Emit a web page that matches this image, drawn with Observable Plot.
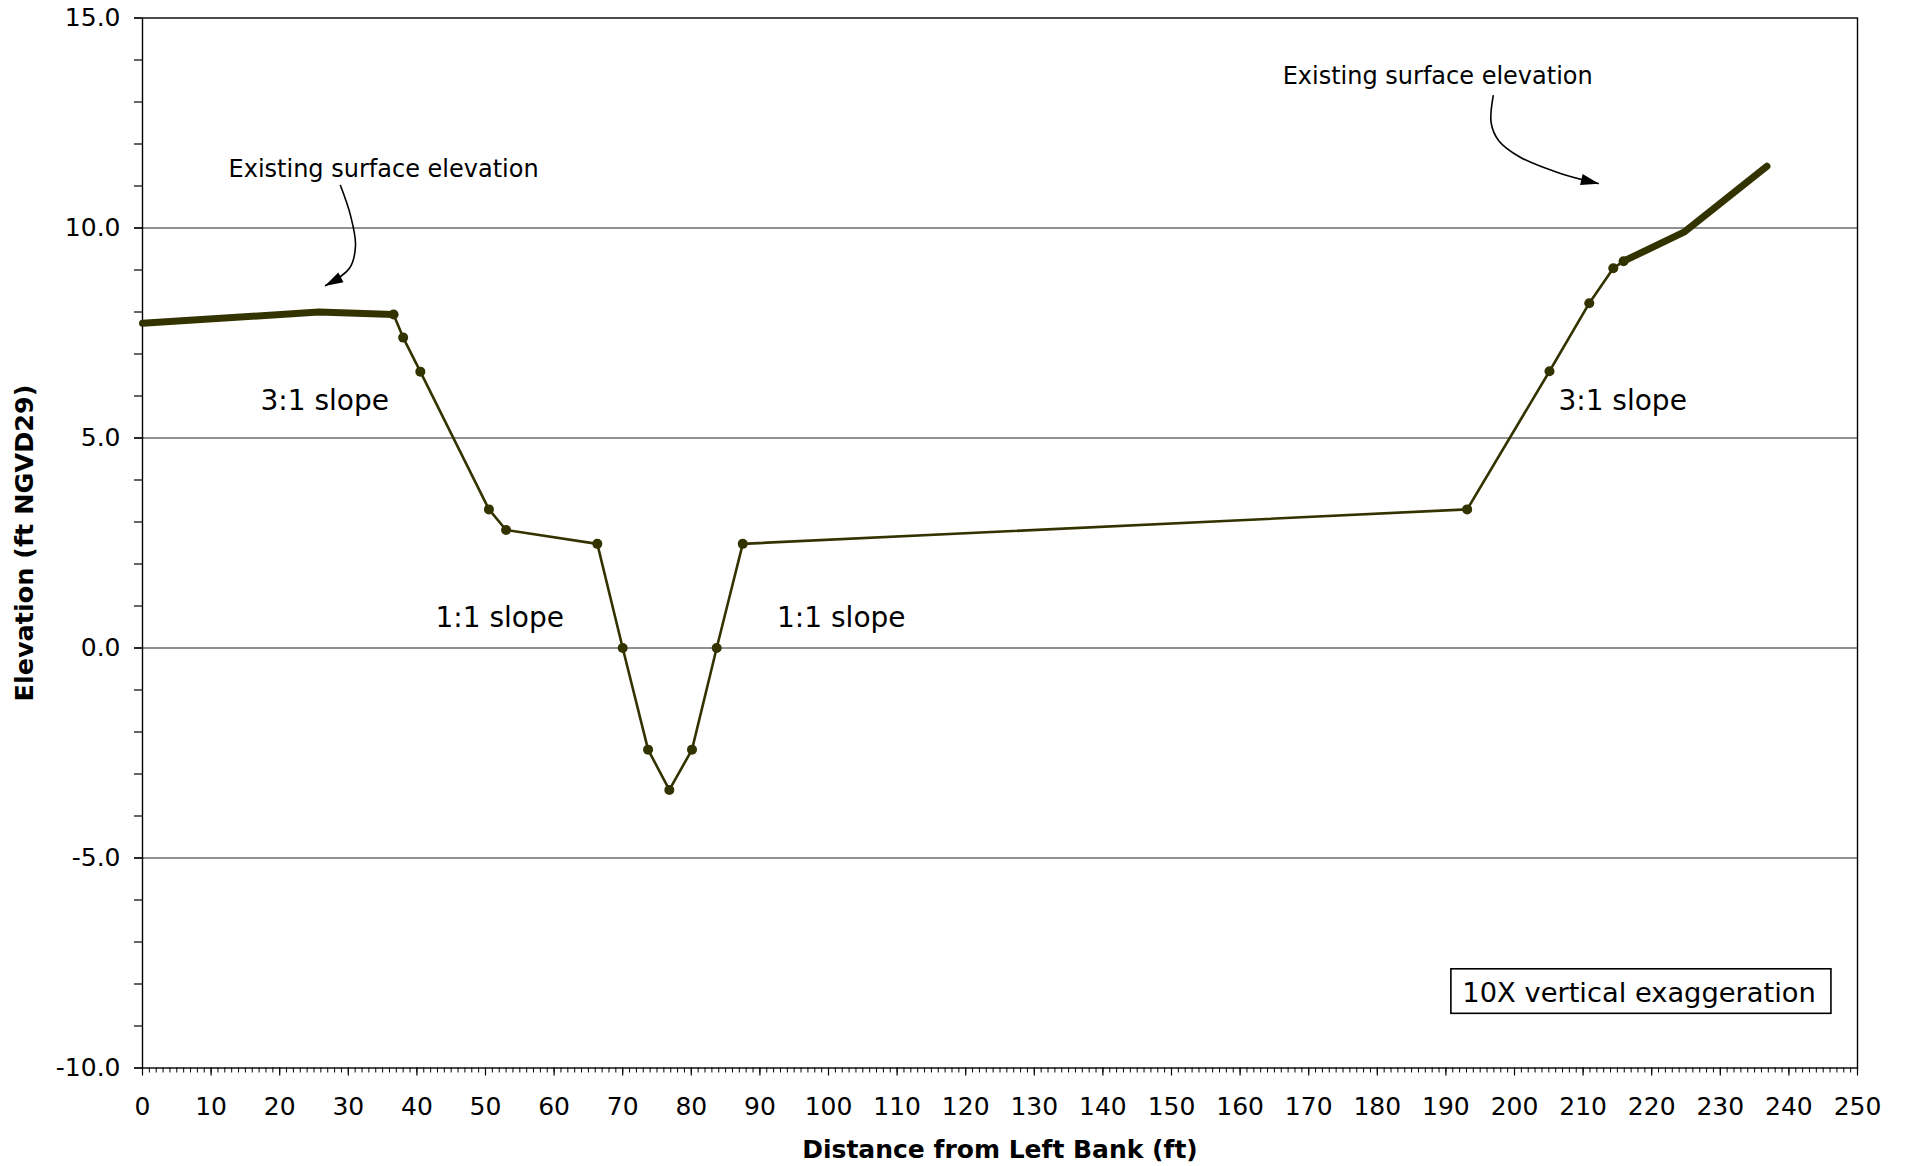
<!DOCTYPE html>
<html><head><meta charset="utf-8">
<script src="https://cdn.jsdelivr.net/npm/d3@7"></script>
<script src="https://cdn.jsdelivr.net/npm/@observablehq/plot@0.6"></script>
<style>
html,body{margin:0;padding:0;background:#fff;}
</style></head><body><div id="chart"></div>
<script>
// ---- Data ----
const existingLeftX = [0, 25.7, 36.6];
const existingLeftY = [7.73, 8.0, 7.94];
const existingRightX = [215.9, 224.7, 236.8];
const existingRightY = [9.21, 9.90, 11.47];
const proposedX = [36.6, 38.0, 40.5, 50.5, 53.0, 66.3, 70.0, 73.7, 76.8, 80.1, 83.7, 87.5, 193.1, 205.1, 210.9, 214.4, 215.9];
const proposedY = [7.94, 7.39, 6.58, 3.30, 2.81, 2.48, 0.0, -2.42, -3.38, -2.42, 0.0, 2.48, 3.30, 6.59, 8.21, 9.04, 9.21];

const xTicks = d3.range(0, 251, 10);
const xMinorTicks = d3.range(0, 251, 1);
const yTicks = [-10, -5, 0, 5, 10, 15];
const yMinorTicks = d3.range(-10, 16, 1);
const gridY = [-5, 0, 5, 10];

const xTitle = "Distance from Left Bank (ft)";
const yTitle = "Elevation (ft NGVD29)";

// annotations (data units)
const noteText = ["Existing surface elevation", "Existing surface elevation"];
const noteX = [12.54, 166.2];
const noteY = [11.21, 13.42];
const slopeText = ["3:1 slope", "1:1 slope", "1:1 slope", "3:1 slope"];
const slopeX = [17.2, 42.7, 92.5, 206.4];
const slopeY = [5.655, 0.51, 0.51, 5.67];
const boxText = "10X vertical exaggeration";
const boxX = [190.8, 246.2];
const boxY = [-7.65, -8.71];
const boxTextX = 192.4;
const boxTextY = -8.43;
const arrowLeftX = [28.86, 30.32, 31.05, 30.17, 26.7];
const arrowLeftY = [11.01, 10.30, 9.58, 9.04, 8.63];
const arrowRightX = [196.9, 196.6, 197.7, 200.9, 206.7, 212.2];
const arrowRightY = [13.15, 12.5, 12.08, 11.68, 11.30, 11.06];

const zip = (xs, ys) => xs.map((x, i) => ({x, y: ys[i]}));
const existingLeft = zip(existingLeftX, existingLeftY);
const existingRight = zip(existingRightX, existingRightY);
const proposed = zip(proposedX, proposedY);
const notes = noteText.map((t, i) => ({t, x: noteX[i], y: noteY[i]}));
const slopes = slopeText.map((t, i) => ({t, x: slopeX[i], y: slopeY[i]}));
const arrowLeft = zip(arrowLeftX, arrowLeftY);
const arrowRight = zip(arrowRightX, arrowRightY);

const col = "#333300";

const chart = Plot.plot({
  width: 1906,
  height: 1166,
  marginLeft: 142,
  marginRight: 49,
  marginTop: 17.5,
  marginBottom: 98.5,
  x: {domain: [0, 250]},
  y: {domain: [-10, 15]},
  style: {fontFamily: "'DejaVu Sans', Verdana, sans-serif", fontSize: "25px", background: "white", color: "black"},
  marks: [
    Plot.ruleY(gridY, {stroke: "#222", strokeWidth: 1.2}),
    Plot.frame({stroke: "black", strokeWidth: 1.4}),
    Plot.axisY(yMinorTicks, {tickSize: 8, text: null, strokeWidth: 1.2}),
    Plot.axisY(yTicks, {tickSize: 8, tickPadding: 14, tickFormat: d => d.toFixed(1), fontSize: 25, label: null, strokeWidth: 1.2}),
    Plot.axisX(xMinorTicks, {tickSize: 5, text: null, strokeWidth: 1}),
    Plot.axisX(xTicks, {tickSize: 8, tickPadding: 21, fontSize: 25, label: null, strokeWidth: 1.2}),
    Plot.text([xTitle], {frameAnchor: "bottom", dy: 82, lineAnchor: "middle", fontWeight: "bold", fontSize: 25}),
    Plot.text([yTitle], {frameAnchor: "left", dx: -118, rotate: -90, lineAnchor: "middle", textAnchor: "middle", fontWeight: "bold", fontSize: 25.5}),
    Plot.line(proposed, {x: "x", y: "y", stroke: col, strokeWidth: 2.6}),
    Plot.dot(proposed, {x: "x", y: "y", r: 5, fill: col}),
    Plot.line(existingLeft, {x: "x", y: "y", stroke: col, strokeWidth: 7, strokeLinecap: "round", strokeLinejoin: "round"}),
    Plot.line(existingRight, {x: "x", y: "y", stroke: col, strokeWidth: 7, strokeLinecap: "round", strokeLinejoin: "round"}),
    Plot.text(notes, {x: "x", y: "y", text: "t", textAnchor: "start", lineAnchor: "bottom", fontSize: 24}),
    Plot.text(slopes, {x: "x", y: "y", text: "t", textAnchor: "start", lineAnchor: "bottom", fontSize: 28}),
    Plot.line(arrowLeft, {x: "x", y: "y", curve: "catmull-rom", stroke: "black", strokeWidth: 1.6, markerEnd: "arrow"}),
    Plot.line(arrowRight, {x: "x", y: "y", curve: "catmull-rom", stroke: "black", strokeWidth: 1.6, markerEnd: "arrow"}),
    Plot.rect([{x1: boxX[0], x2: boxX[1], y1: boxY[0], y2: boxY[1]}], {x1: "x1", x2: "x2", y1: "y1", y2: "y2", fill: "white", stroke: "black", strokeWidth: 1.6}),
    Plot.text([boxText], {x: boxTextX, y: boxTextY, textAnchor: "start", lineAnchor: "bottom", fontSize: 27.3})
  ]
});

// make arrowheads filled triangles
chart.querySelectorAll("marker").forEach(m => {
  m.setAttribute("viewBox", "-10 -5 11 10");
  m.setAttribute("markerWidth", 13.2);
  m.setAttribute("markerHeight", 12);
  m.setAttribute("refX", 0);
  m.setAttribute("refY", 0);
  m.setAttribute("overflow", "visible");
  m.setAttribute("fill", "black");
  m.setAttribute("stroke", "none");
  const p = m.querySelector("path");
  if (p) p.setAttribute("d", "M-9,-2.9L0.5,0L-9,2.9Z");
});

document.getElementById("chart").append(chart);
</script></body></html>
